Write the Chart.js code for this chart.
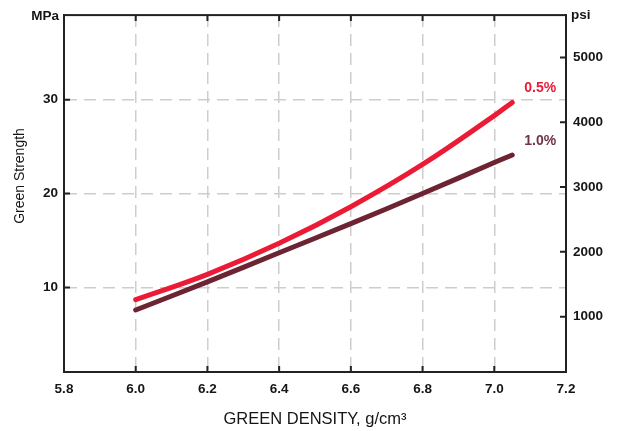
<!DOCTYPE html>
<html>
<head>
<meta charset="utf-8">
<script src="https://cdn.jsdelivr.net/npm/chart.js@4"></script>
<style>
    html, body { margin: 0; padding: 0; background: #fff; }
    canvas { display: block; }
</style>
</head>
<body>
<canvas id="strengthChart" width="621" height="431"></canvas>
<script>
// values
const densities = [6.0, 6.2, 6.4, 6.6, 6.8, 7.0, 7.05];
const strength05 = [8.7, 11.4, 14.7, 18.6, 23.1, 28.3, 29.7];
const strength10 = [7.6, 10.6, 13.7, 16.8, 20.0, 23.3, 24.1];
const seriesLabels = ['0.5%', '1.0%'];

const densityTicks = [5.8, 6.0, 6.2, 6.4, 6.6, 6.8, 7.0, 7.2];
const mpaTicks = [10, 20, 30];
const psiTicks = [1000, 2000, 3000, 4000, 5000];

const MPA_PER_PSI = 0.006895;
const mpaMin = 1;
const mpaMax = 39;

const RED = '#ec1b35';
const DARK = '#6c2432';
const TEXT = '#151515';
const AXIS = '#222';
const GRID = '#cdcdcd';
const FONT = "'Liberation Sans', Arial, sans-serif";

const toPoints = (ys) => densities.map((x, i) => ({ x, y: ys[i] }));

const annotations = {
    id: 'annotations',
    afterDatasetsDraw(chart) {
        const { ctx, chartArea: a, scales } = chart;
        ctx.save();

        // frame
        ctx.strokeStyle = AXIS;
        ctx.lineWidth = 2;
        ctx.strokeRect(a.left, a.top, a.right - a.left, a.bottom - a.top);

        // inward tick marks
        ctx.beginPath();
        densityTicks.slice(1, -1).forEach(v => {
            const x = scales.x.getPixelForValue(v);
            ctx.moveTo(x, a.top); ctx.lineTo(x, a.top + 6);
            ctx.moveTo(x, a.bottom); ctx.lineTo(x, a.bottom - 6);
        });
        mpaTicks.forEach(v => {
            const y = scales.y.getPixelForValue(v);
            ctx.moveTo(a.left, y); ctx.lineTo(a.left + 6, y);
        });
        psiTicks.forEach(v => {
            const y = scales.psi.getPixelForValue(v);
            ctx.moveTo(a.right, y); ctx.lineTo(a.right - 6, y);
        });
        ctx.stroke();

        // unit labels
        ctx.fillStyle = TEXT;
        ctx.font = `bold 13.5px ${FONT}`;
        ctx.textBaseline = 'middle';
        ctx.textAlign = 'right';
        ctx.fillText('MPa', 59, 16);
        ctx.textAlign = 'left';
        ctx.fillText('psi', 571, 15);

        // left axis title
        ctx.save();
        ctx.translate(20, 176);
        ctx.rotate(-Math.PI / 2);
        ctx.textAlign = 'center';
        ctx.font = `14px ${FONT}`;
        ctx.fillText('Green Strength', 0, 0);
        ctx.restore();

        // series labels at line ends
        ctx.font = `bold 14px ${FONT}`;
        ctx.textAlign = 'center';
        chart.data.datasets.forEach((ds, i) => {
            const meta = chart.getDatasetMeta(i);
            const last = meta.data[meta.data.length - 1];
            ctx.fillStyle = i === 0 ? RED : '#6f3347';
            ctx.fillText(seriesLabels[i], last.x + 28, last.y - 14);
        });

        ctx.restore();
    }
};

const gridColor = (ctx) => {
    const n = ctx.scale.ticks.length;
    return (ctx.index === 0 || ctx.index === n - 1) ? 'rgba(0,0,0,0)' : GRID;
};

new Chart(document.getElementById('strengthChart'), {
    type: 'line',
    data: {
        datasets: [
            {
                label: seriesLabels[0],
                data: toPoints(strength05),
                borderColor: RED,
                borderWidth: 5,
                borderCapStyle: 'round',
                tension: 0.4,
                pointRadius: 0,
                fill: false
            },
            {
                label: seriesLabels[1],
                data: toPoints(strength10),
                borderColor: DARK,
                borderWidth: 5,
                borderCapStyle: 'round',
                tension: 0.4,
                pointRadius: 0,
                fill: false
            }
        ]
    },
    options: {
        responsive: false,
        animation: false,
        devicePixelRatio: 1,
        layout: { padding: { top: 11, left: 0, right: 0, bottom: 0 } },
        plugins: {
            legend: { display: false },
            tooltip: { enabled: false }
        },
        scales: {
            x: {
                type: 'linear',
                min: 5.8,
                max: 7.2,
                afterBuildTicks: (s) => { s.ticks = densityTicks.map(value => ({ value })); },
                afterFit: (s) => { s.height = 59; },
                ticks: {
                    padding: 9,
                    color: TEXT,
                    font: { family: FONT, size: 13.5, weight: 'bold' },
                    callback: (v) => Number(v).toFixed(1)
                },
                grid: { color: gridColor, lineWidth: 1.5, drawTicks: false },
                border: { display: true, color: AXIS, width: 2, dash: [12, 7] },
                title: {
                    display: true,
                    text: 'GREEN DENSITY, g/cm³',
                    color: TEXT,
                    font: { family: FONT, size: 16.5 },
                    padding: { top: 0, bottom: 2 }
                }
            },
            y: {
                position: 'left',
                min: mpaMin,
                max: mpaMax,
                afterBuildTicks: (s) => { s.ticks = mpaTicks.map(value => ({ value })); },
                afterFit: (s) => { s.width = 64; },
                ticks: {
                    padding: 6,
                    color: TEXT,
                    font: { family: FONT, size: 13.5, weight: 'bold' },
                    callback: (v) => String(v)
                },
                grid: { color: GRID, lineWidth: 1.5, drawTicks: false },
                border: { display: true, color: AXIS, width: 2, dash: [12, 7] }
            },
            psi: {
                position: 'right',
                min: mpaMin / MPA_PER_PSI,
                max: mpaMax / MPA_PER_PSI,
                afterBuildTicks: (s) => { s.ticks = psiTicks.map(value => ({ value })); },
                afterFit: (s) => { s.width = 55; },
                ticks: {
                    padding: 7,
                    color: TEXT,
                    font: { family: FONT, size: 13.5, weight: 'bold' },
                    callback: (v) => String(v)
                },
                grid: { display: false, drawTicks: false },
                border: { display: true, color: AXIS, width: 2 }
            }
        }
    },
    plugins: [annotations]
});
</script>
</body>
</html>
